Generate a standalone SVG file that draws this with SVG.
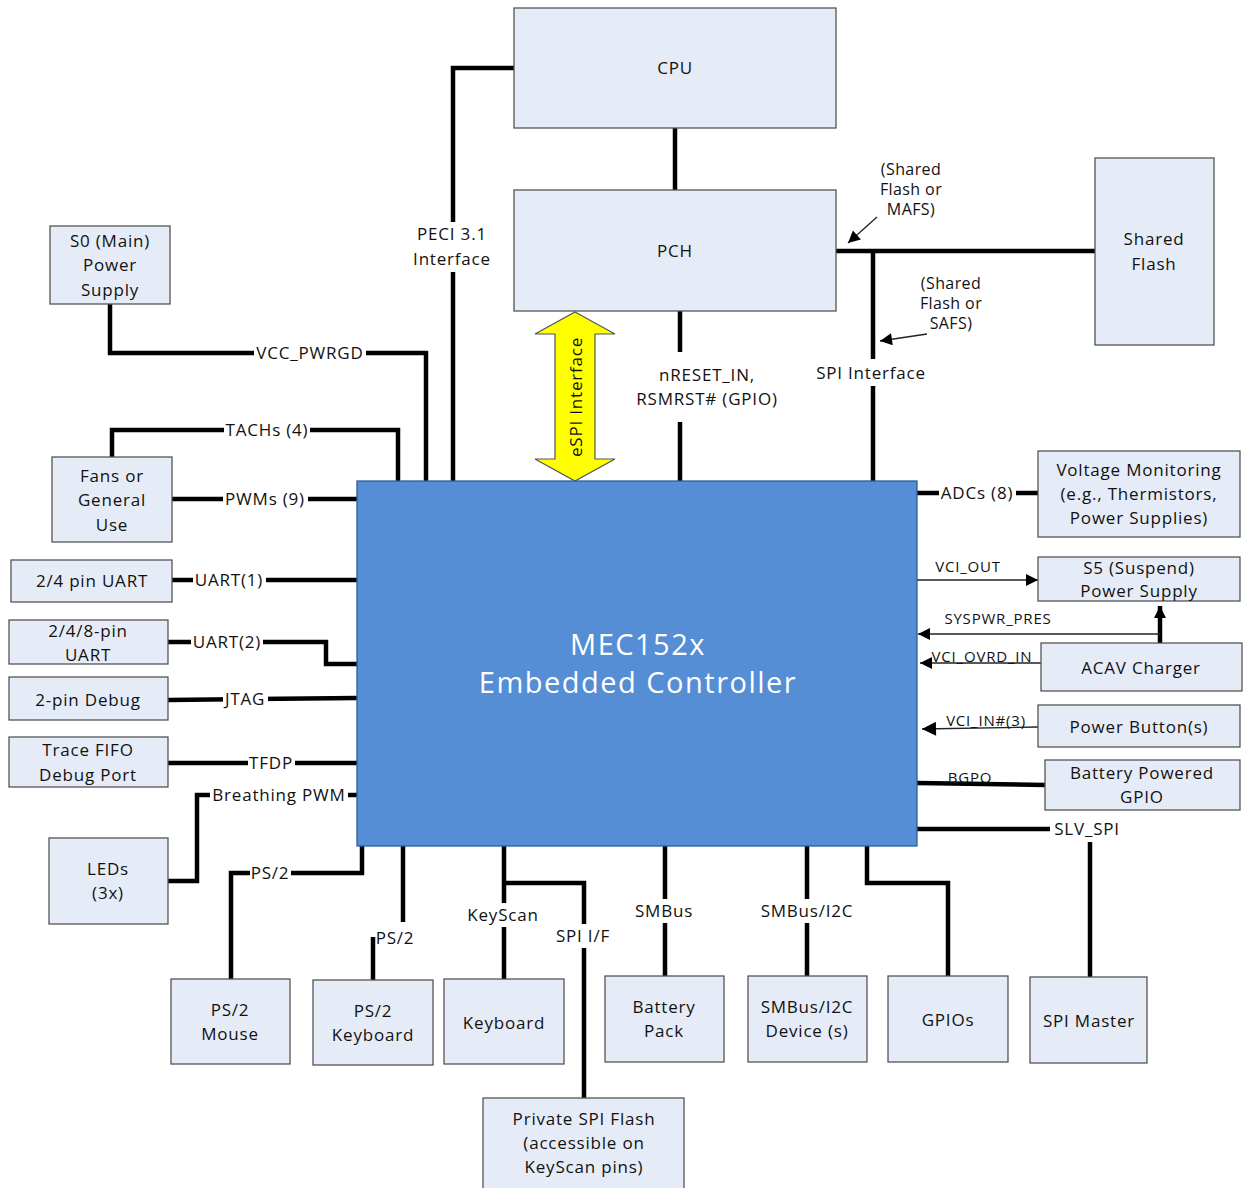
<svg xmlns="http://www.w3.org/2000/svg" width="1243" height="1188" viewBox="0 0 1243 1188">
<style>
.box{fill:#e6ecf7;stroke:#555;stroke-width:1.3}
.t{font-family:"Open Sans","Noto Sans",sans-serif;font-size:17px;fill:#111;text-anchor:middle;letter-spacing:0.8px}
.sm{font-size:15px}
.an{font-size:16px;letter-spacing:0.4px}
.bg{fill:#fff}
.w{stroke:#000;stroke-width:4.5;fill:none}
.n{stroke:#222;stroke-width:1.3;fill:none}
</style>
<defs>
<marker id="ahL" viewBox="0 0 10 10" refX="10" refY="5" markerWidth="22" markerHeight="14" markerUnits="userSpaceOnUse" orient="auto"><path d="M0,0 L10,5 L0,10 z" fill="#000"/></marker>
<marker id="ahM" viewBox="0 0 10 10" refX="10" refY="5" markerWidth="18" markerHeight="12" markerUnits="userSpaceOnUse" orient="auto"><path d="M0,0 L10,5 L0,10 z" fill="#000"/></marker>
</defs>
<rect width="1243" height="1188" fill="#fff"/>

<g id="connectors">
<path class="w" d="M675,128 V190"/>
<path class="w" d="M514,68 H453 V481"/>
<path class="w" d="M110,304 V353 H426 V481"/>
<path class="w" d="M112,457 V430 H398 V481"/>
<path class="w" d="M172,499 H357"/>
<path class="w" d="M172,580 H357"/>
<path class="w" d="M168,642 H326 V664 H357"/>
<path class="w" d="M168,700 L357,698"/>
<path class="w" d="M168,763 H357"/>
<path class="w" d="M168,881 H197 V795 H357"/>
<path class="w" d="M362,846 V873 H231 V979"/>
<path class="w" d="M403,846 V922"/>
<path class="w" d="M373,937 V980"/>
<path class="w" d="M504,846 V979"/>
<path class="w" d="M504,883 H584 V1098"/>
<path class="w" d="M665,846 V976"/>
<path class="w" d="M807,846 V976"/>
<path class="w" d="M867,846 V883 H948 V976"/>
<path class="w" d="M917,829 H1050"/>
<path class="w" d="M1090,842 V977"/>
<path class="w" d="M917,783 L1045,785"/>
<path class="w" d="M917,493 H1038"/>
<path class="w" d="M680,311 V481"/>
<path class="w" d="M836,251 H1095"/>
<path class="w" d="M873,251 V481"/>
<path class="w" d="M1160,643 V606" marker-end="url(#ahM)"/>
<path class="n" d="M917,580 H1038" marker-end="url(#ahM)"/>
<path class="n" d="M1160,634 H918" marker-end="url(#ahM)"/>
<path class="n" d="M1041,663 H920" marker-end="url(#ahM)"/>
<path class="n" d="M1038,727 L922,729" stroke-width="2" marker-end="url(#ahL)"/>
<path class="n" d="M877,217 L848,243" marker-end="url(#ahM)"/>
<path class="n" d="M927,334 L880,341" marker-end="url(#ahM)"/>
<path d="M575,312 L615,334 H595 V459 H615 L575,481 L535,459 H555 V334 H535 Z" fill="#ffff00" stroke="#555" stroke-width="1.2"/>
<text class="t" transform="translate(582,397) rotate(-90)">eSPI Interface</text>
</g>

<g id="labels">
<rect class="bg" x="444" y="222" width="18" height="50"/>
<rect class="bg" x="254" y="343" width="112" height="20"/>
<rect class="bg" x="224" y="420" width="86" height="20"/>
<rect class="bg" x="223" y="489" width="85" height="20"/>
<rect class="bg" x="193" y="570" width="73" height="20"/>
<rect class="bg" x="191" y="632" width="72" height="20"/>
<rect class="bg" x="223" y="688" width="45" height="20"/>
<rect class="bg" x="248" y="753" width="47" height="20"/>
<rect class="bg" x="210" y="785" width="138" height="20"/>
<rect class="bg" x="250" y="863" width="41" height="20"/>
<rect class="bg" x="497" y="903" width="14" height="24"/>
<rect class="bg" x="577" y="924" width="14" height="24"/>
<rect class="bg" x="658" y="899" width="14" height="24"/>
<rect class="bg" x="800" y="899" width="14" height="24"/>
<rect class="bg" x="939" y="483" width="77" height="20"/>
<rect class="bg" x="673" y="352" width="14" height="70"/>
<rect class="bg" x="866" y="359" width="14" height="27"/>
<text class="t" x="452" y="240">PECI 3.1</text>
<text class="t" x="452" y="265">Interface</text>
<text class="t" x="310" y="359">VCC_PWRGD</text>
<text class="t" x="267" y="436">TACHs (4)</text>
<text class="t" x="265" y="505">PWMs (9)</text>
<text class="t" x="229" y="586">UART(1)</text>
<text class="t" x="227" y="648">UART(2)</text>
<text class="t" x="245" y="705">JTAG</text>
<text class="t" x="271" y="769">TFDP</text>
<text class="t" x="279" y="801">Breathing PWM</text>
<text class="t" x="270" y="879">PS/2</text>
<text class="t" x="395" y="944">PS/2</text>
<text class="t" x="503" y="921">KeyScan</text>
<text class="t" x="583" y="942">SPI I/F</text>
<text class="t" x="664" y="917">SMBus</text>
<text class="t" x="807" y="917">SMBus/I2C</text>
<text class="t" x="1087" y="835">SLV_SPI</text>
<text class="t sm" x="970" y="783">BGPO</text>
<text class="t sm" x="986" y="726">VCI_IN#(3)</text>
<text class="t sm" x="982" y="662">VCI_OVRD_IN</text>
<text class="t sm" x="998" y="624">SYSPWR_PRES</text>
<text class="t sm" x="968" y="572">VCI_OUT</text>
<text class="t" x="977" y="499">ADCs (8)</text>
<text class="t" x="707" y="381">nRESET_IN,</text>
<text class="t" x="707" y="405">RSMRST# (GPIO)</text>
<text class="t" x="871" y="379">SPI Interface</text>
<text class="t an" x="911" y="175">(Shared</text>
<text class="t an" x="911" y="195">Flash or</text>
<text class="t an" x="911" y="215">MAFS)</text>
<text class="t an" x="951" y="289">(Shared</text>
<text class="t an" x="951" y="309">Flash or</text>
<text class="t an" x="951" y="329">SAFS)</text>
</g>

<g id="cpu"><rect class="box" x="514" y="8" width="322" height="120"/><text class="t" x="675" y="74">CPU</text></g>
<g id="pch"><rect class="box" x="514" y="190" width="322" height="121"/><text class="t" x="675" y="257">PCH</text></g>
<g id="shared-flash"><rect class="box" x="1095" y="158" width="119" height="187"/><text class="t" x="1154" y="245">Shared</text><text class="t" x="1154" y="270">Flash</text></g>
<g id="s0"><rect class="box" x="50" y="226" width="120" height="78"/><text class="t" x="110" y="247">S0 (Main)</text><text class="t" x="110" y="271">Power</text><text class="t" x="110" y="296">Supply</text></g>
<g id="fans"><rect class="box" x="52" y="457" width="120" height="85"/><text class="t" x="112" y="482">Fans or</text><text class="t" x="112" y="506">General</text><text class="t" x="112" y="531">Use</text></g>
<g id="uart1"><rect class="box" x="11" y="560" width="161" height="42"/><text class="t" x="92" y="587">2/4 pin UART</text></g>
<g id="uart2"><rect class="box" x="9" y="620" width="159" height="44"/><text class="t" x="88" y="637">2/4/8-pin</text><text class="t" x="88" y="661">UART</text></g>
<g id="debug"><rect class="box" x="9" y="677" width="159" height="43"/><text class="t" x="88" y="706">2-pin Debug</text></g>
<g id="trace"><rect class="box" x="9" y="737" width="159" height="50"/><text class="t" x="88" y="756">Trace FIFO</text><text class="t" x="88" y="781">Debug Port</text></g>
<g id="leds"><rect class="box" x="49" y="838" width="119" height="86"/><text class="t" x="108" y="875">LEDs</text><text class="t" x="108" y="899">(3x)</text></g>

<g id="mec"><rect x="357" y="481" width="560" height="365" fill="#558ed5" stroke="#2e5c9a" stroke-width="1.3"/>
<text class="t" x="638" y="655" style="fill:#fff;font-size:29px;letter-spacing:1.5px">MEC152x</text>
<text class="t" x="638" y="693" style="fill:#fff;font-size:29px;letter-spacing:1.5px">Embedded Controller</text></g>

<g id="voltage"><rect class="box" x="1038" y="451" width="202" height="86"/><text class="t" x="1139" y="476">Voltage Monitoring</text><text class="t" x="1139" y="500">(e.g., Thermistors,</text><text class="t" x="1139" y="524">Power Supplies)</text></g>
<g id="s5"><rect class="box" x="1038" y="557" width="202" height="44"/><text class="t" x="1139" y="574">S5 (Suspend)</text><text class="t" x="1139" y="597">Power Supply</text></g>
<g id="acav"><rect class="box" x="1041" y="643" width="201" height="48"/><text class="t" x="1141" y="674">ACAV Charger</text></g>
<g id="power-button"><rect class="box" x="1038" y="705" width="202" height="42"/><text class="t" x="1139" y="733">Power Button(s)</text></g>
<g id="bgpio"><rect class="box" x="1045" y="760" width="195" height="50"/><text class="t" x="1142" y="779">Battery Powered</text><text class="t" x="1142" y="803">GPIO</text></g>
<g id="ps2-mouse"><rect class="box" x="171" y="979" width="119" height="85"/><text class="t" x="230" y="1016">PS/2</text><text class="t" x="230" y="1040">Mouse</text></g>
<g id="ps2-keyboard"><rect class="box" x="313" y="980" width="120" height="85"/><text class="t" x="373" y="1017">PS/2</text><text class="t" x="373" y="1041">Keyboard</text></g>
<g id="keyboard"><rect class="box" x="444" y="979" width="120" height="85"/><text class="t" x="504" y="1029">Keyboard</text></g>
<g id="battery"><rect class="box" x="605" y="976" width="119" height="86"/><text class="t" x="664" y="1013">Battery</text><text class="t" x="664" y="1037">Pack</text></g>
<g id="smbus-dev"><rect class="box" x="748" y="976" width="119" height="86"/><text class="t" x="807" y="1013">SMBus/I2C</text><text class="t" x="807" y="1037">Device (s)</text></g>
<g id="gpios"><rect class="box" x="888" y="976" width="120" height="86"/><text class="t" x="948" y="1026">GPIOs</text></g>
<g id="spi-master"><rect class="box" x="1030" y="977" width="117" height="86"/><text class="t" x="1089" y="1027">SPI Master</text></g>
<g id="private-flash"><rect class="box" x="483" y="1098" width="201" height="92"/><text class="t" x="584" y="1125">Private SPI Flash</text><text class="t" x="584" y="1149">(accessible on</text><text class="t" x="584" y="1173">KeyScan pins)</text></g>
</svg>
